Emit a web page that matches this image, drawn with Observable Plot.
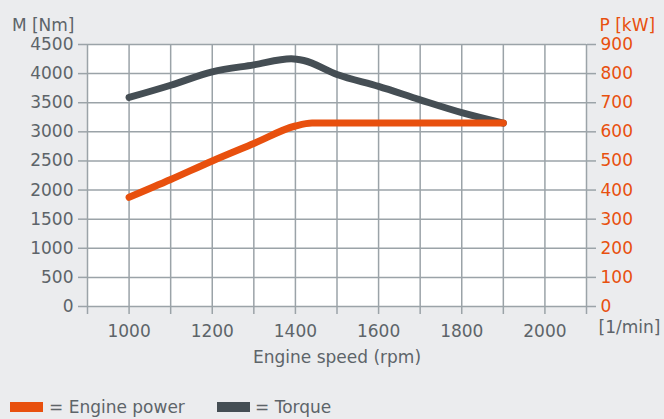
<!DOCTYPE html>
<html><head><meta charset="utf-8">
<script src="https://cdn.jsdelivr.net/npm/d3@7"></script>
<script src="https://cdn.jsdelivr.net/npm/@observablehq/plot@0.6"></script>
<style>
html,body{margin:0;padding:0;background:#ebecee;width:664px;height:419px;overflow:hidden;font-family:"DejaVu Sans",sans-serif;}
#legend{position:relative;height:39px;font-size:17px;color:#5d6469;}
.sw{position:absolute;width:33px;height:10px;top:22px;}
.lt{position:absolute;top:17px;white-space:nowrap;line-height:20px;}
</style></head>
<body>
<div id="chart"></div>
<div id="legend">
  <div class="sw" style="left:10px;background:#e8500e"></div><div class="lt" style="left:49px">= Engine power</div>
  <div class="sw" style="left:217px;background:#454e54"></div><div class="lt" style="left:255px">= Torque</div>
</div>
<script>
const torqueRpm = [1000,1100,1200,1300,1390,1420,1500,1600,1700,1800,1900];
const torqueNm  = [3590,3800,4030,4150,4255,4225,3985,3780,3550,3330,3150];
const powerRpm  = [1000,1100,1200,1300,1400,1440,1900];
const powerKw   = [375,436,500,560,620,630,630];
const xTicks = d3.range(900,2101,100);
const xLabels = [1000,1200,1400,1600,1800,2000];
const yTicks = d3.range(0,4501,500);
const ratio = 5; // Nm per kW on the shared scale

const torque = torqueRpm.map((r,i)=>({rpm:r, v:torqueNm[i]}));
const power = powerRpm.map((r,i)=>({rpm:r, v:powerKw[i]*ratio}));

const grey = "#5d6469", orange = "#e8500e", gridC = "#9ba3a8";

const chart = Plot.plot({
  width:664, height:380,
  marginTop:44, marginLeft:87, marginRight:78, marginBottom:74,
  style:{background:"transparent", fontFamily:"'DejaVu Sans', sans-serif", fontSize:"17px", color:grey, overflow:"visible"},
  x:{domain:[900,2100]},
  y:{domain:[0,4500]},
  marks:[
    Plot.frame({fill:"white", stroke:null}),
    Plot.gridX(xTicks,{stroke:gridC, strokeOpacity:1, strokeWidth:1.5}),
    Plot.gridY(yTicks,{stroke:gridC, strokeOpacity:1, strokeWidth:1.5}),
    Plot.axisX({ticks:xTicks, tickSize:8, tickPadding:10, stroke:gridC, strokeWidth:1.5, fill:grey,
      tickFormat:d=>xLabels.includes(d)?String(d):"", label:null}),
    Plot.axisY({anchor:"left", ticks:yTicks, tickSize:9, tickPadding:5, stroke:gridC, strokeWidth:1.5, fill:grey,
      tickFormat:d=>String(d), label:null}),
    Plot.axisY({anchor:"right", ticks:yTicks, tickSize:9, tickPadding:5, stroke:gridC, strokeWidth:1.5, fill:orange,
      tickFormat:d=>String(d/ratio), label:null}),
    Plot.line(torque,{x:"rpm", y:"v", stroke:"#454e54", strokeWidth:7, curve:"monotone-x", strokeLinecap:"round", strokeLinejoin:"round"}),
    Plot.line(power,{x:"rpm", y:"v", stroke:orange, strokeWidth:7, curve:"monotone-x", strokeLinecap:"round", strokeLinejoin:"round"}),
    Plot.text(["M [Nm]"],{frameAnchor:"top-left", dx:-13, dy:-26, textAnchor:"end", fill:grey}),
    Plot.text(["P [kW]"],{frameAnchor:"top-right", dx:13, dy:-26, textAnchor:"start", fill:orange}),
    Plot.text(["[1/min]"],{frameAnchor:"bottom-right", dx:12, dy:26, textAnchor:"start", fill:grey}),
    Plot.text(["Engine speed (rpm)"],{frameAnchor:"bottom", dy:56, fill:grey})
  ]
});
document.getElementById("chart").appendChild(chart);
</script>
</body></html>
